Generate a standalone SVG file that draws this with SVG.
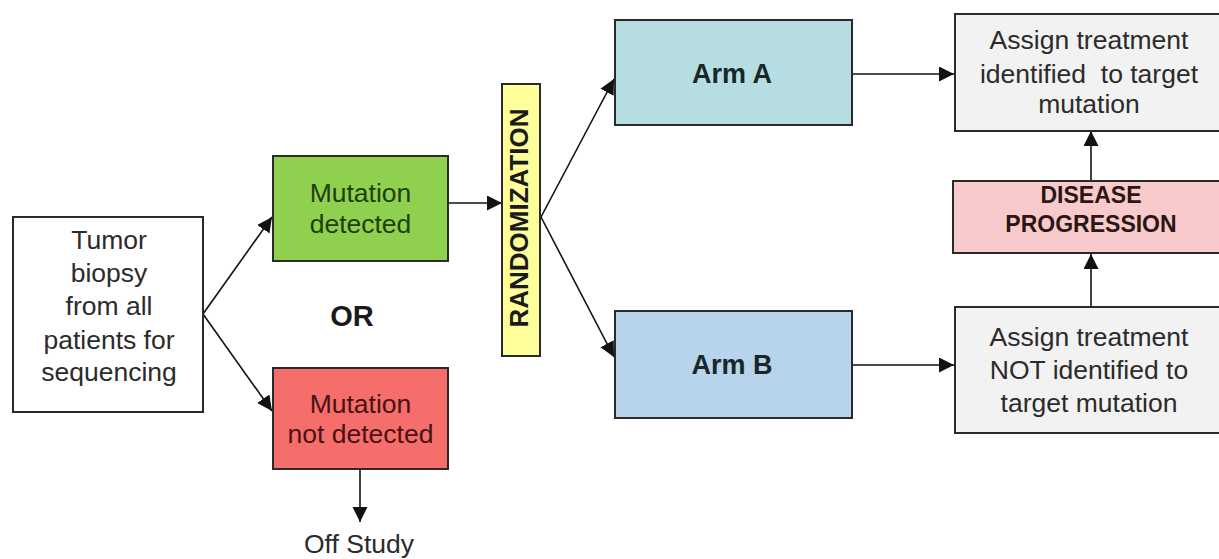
<svg xmlns="http://www.w3.org/2000/svg" width="1219" height="559" viewBox="0 0 1219 559">
<style>
  .box { stroke: #2a2a2a; stroke-width: 2; }
  .t { font-family: "Liberation Sans", Arial, sans-serif; font-size: 26.5px; text-anchor: middle; fill: #2b2b2b; }
  .b { font-family: "Liberation Sans", Arial, sans-serif; font-weight: bold; text-anchor: middle; }
  .c { stroke: #111; stroke-width: 1.6; fill: none; marker-end: url(#ah); }
</style>
<defs>
  <marker id="ah" markerUnits="userSpaceOnUse" markerWidth="16" markerHeight="16" refX="15" refY="7.5" orient="auto">
    <path d="M0,0 L15,7.5 L0,15 z" fill="#111"/>
  </marker>
</defs>
<rect width="1219" height="559" fill="#ffffff"/>

<g id="connectors">
  <line class="c" x1="203" y1="314" x2="272" y2="217"/>
  <line class="c" x1="203" y1="314" x2="272" y2="411"/>
  <line class="c" x1="448" y1="203" x2="502" y2="203"/>
  <line class="c" x1="360" y1="469" x2="360" y2="522"/>
  <line class="c" x1="541" y1="217" x2="614" y2="79"/>
  <line class="c" x1="541" y1="217" x2="614" y2="357"/>
  <line class="c" x1="852" y1="74" x2="954" y2="74"/>
  <line class="c" x1="852" y1="365" x2="954" y2="365"/>
  <line class="c" x1="1091" y1="307" x2="1091" y2="254"/>
  <line class="c" x1="1091" y1="181" x2="1091" y2="131"/>
</g>

<g id="tumor">
  <rect class="box" x="13" y="217" width="190" height="195" fill="#ffffff"/>
  <text class="t" x="109" y="249">Tumor</text>
  <text class="t" x="109" y="282">biopsy</text>
  <text class="t" x="109" y="315">from all</text>
  <text class="t" x="109" y="349">patients for</text>
  <text class="t" x="109" y="381">sequencing</text>
</g>

<g id="mutation-detected">
  <rect class="box" x="273" y="156" width="175" height="105" fill="#8fd14f"/>
  <text class="t" x="360.5" y="202" style="fill:#1d3f0c">Mutation</text>
  <text class="t" x="360.5" y="233" style="fill:#1d3f0c">detected</text>
</g>

<g id="or-label">
  <text class="b" x="352" y="326" font-size="29" fill="#1a1a1a">OR</text>
</g>

<g id="mutation-not-detected">
  <rect class="box" x="273" y="368" width="175" height="101" fill="#f56e6b"/>
  <text class="t" x="360.5" y="413" style="fill:#4a1212">Mutation</text>
  <text class="t" x="360.5" y="443" style="fill:#4a1212">not detected</text>
</g>

<g id="off-study">
  <text class="t" x="359" y="553">Off Study</text>
</g>

<g id="randomization">
  <rect class="box" x="502" y="84" width="38" height="272" fill="#ffff99"/>
  <text class="b" font-size="26" fill="#1a1a1a" transform="translate(528,218) rotate(-90)">RANDOMIZATION</text>
</g>

<g id="arm-a">
  <rect class="box" x="615" y="20" width="237" height="105" fill="#b6dee2"/>
  <text class="b" x="732" y="83" font-size="27" fill="#182828">Arm A</text>
</g>

<g id="arm-b">
  <rect class="box" x="615" y="311" width="237" height="107" fill="#b8d3ec"/>
  <text class="b" x="732" y="374" font-size="27" fill="#182828">Arm B</text>
</g>

<g id="assign-targeted">
  <rect class="box" x="955" y="14" width="280" height="117" fill="#f2f2f2"/>
  <text class="t" x="1089" y="49">Assign treatment</text>
  <text class="t" x="1089" y="83" xml:space="preserve">identified  to target</text>
  <text class="t" x="1089" y="113">mutation</text>
</g>

<g id="disease-progression">
  <rect class="box" x="953" y="181" width="280" height="72" fill="#f9cacb"/>
  <text class="b" x="1091" y="203" font-size="23" fill="#2a1616">DISEASE</text>
  <text class="b" x="1091" y="232" font-size="23" fill="#2a1616">PROGRESSION</text>
</g>

<g id="assign-non-targeted">
  <rect class="box" x="955" y="307" width="280" height="126" fill="#f2f2f2"/>
  <text class="t" x="1089" y="346">Assign treatment</text>
  <text class="t" x="1089" y="379">NOT identified to</text>
  <text class="t" x="1089" y="412">target mutation</text>
</g>
</svg>
